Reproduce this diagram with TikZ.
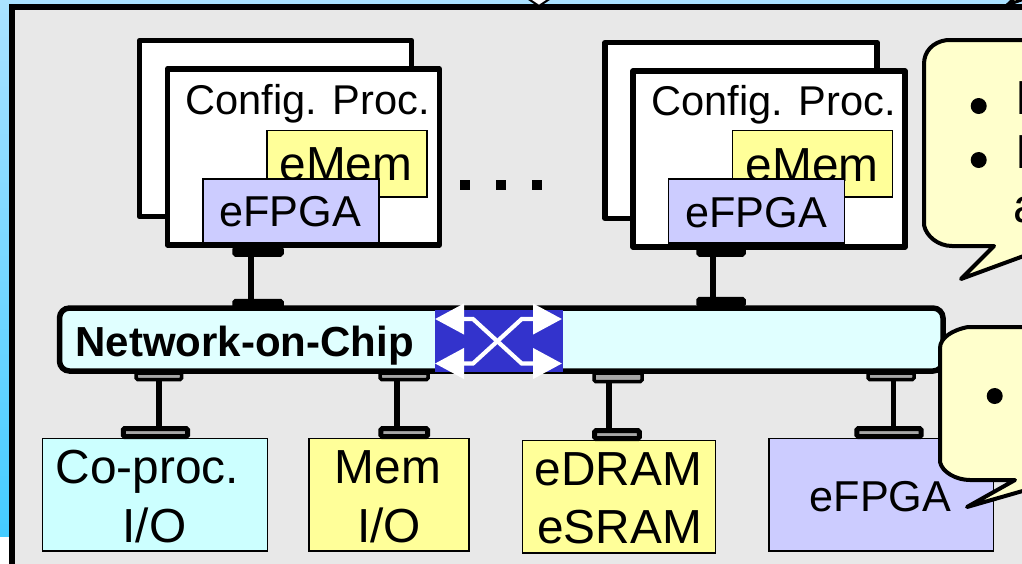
\documentclass[tikz,border=0pt]{standalone}
\usepackage{fontspec}
\setmainfont{Liberation Sans}
\usetikzlibrary{arrows.meta}
\definecolor{chipgray}{HTML}{E8E8E8}
\definecolor{skytop}{HTML}{AAE2FF}
\definecolor{skylow}{HTML}{44CCFF}
\definecolor{memyellow}{HTML}{FFFF99}
\definecolor{fpgablue}{HTML}{CCCCFF}
\definecolor{nocfill}{HTML}{E0FFFF}
\definecolor{iofill}{HTML}{CCFFFF}
\definecolor{switchblue}{HTML}{3333CC}
\definecolor{notefill}{HTML}{FFFFCC}

\begin{document}
\begin{tikzpicture}[x=1pt, y=-1pt,
      every node/.style = {outer sep=0pt, inner sep=0pt},
      chipframe/.style = {rectangle, draw, fill=chipgray, line width=5.8pt},
      procbox/.style = {rectangle, draw, fill=white, line width=5.5pt,
        line join=round, minimum width=272pt, minimum height=176pt},
      thinbox/.style = {rectangle, draw, line width=1.5pt},
      nocbar/.style = {rectangle, rounded corners=10pt, draw, fill=nocfill,
        line width=5.5pt, minimum width=883.5pt, minimum height=63pt},
      blackpad/.style = {rectangle, rounded corners=1.5pt, draw, fill=black,
        line width=3.5pt, minimum height=7pt},
      graypad/.style = {rectangle, rounded corners=1.5pt, draw, fill=black!35},
      stem/.style = {line width=5.5pt},
      crossline/.style = {draw=white, line width=4.2pt,
        {Triangle[length=29pt,width=30pt]}-{Triangle[length=29pt,width=30pt]}},
      dotmark/.style = {rectangle, fill=black, minimum size=10pt},
      note/.style = {draw, fill=notefill, line width=4pt, line join=round},
      bulletmark/.style = {circle, fill=black, minimum size=16pt},
      textmid/.style = {anchor=base, font=\fontsize{41.6}{50}\selectfont},
      textfpga/.style = {anchor=base, font=\fontsize{43.2}{50}\selectfont},
      textbig/.style = {anchor=base, font=\fontsize{47.8}{56}\selectfont}]
    \clip (0,0) rectangle (1022,563);
    % slide behind the chip
    \fill[skytop] (0,0) rectangle (1022,5);
    \shade[top color=skytop, bottom color=skylow] (0,0) rectangle (12,536);
    \node[chipframe, minimum width=1028.3pt, minimum height=593.3pt] (chip) at (525.85,303.35) {};
    \draw[line width=2pt, fill=white] (524,-4) -- (539,6) -- (554,-4) -- cycle;
    \draw[line width=3pt, fill=notefill] (1019,-6) -- (1007,5) -- (1030,-3);

    % the two processors
    \foreach \i/\dx/\dy/\tx/\ty/\mx/\my/\fx/\fy in {a/0/0/307.5/114.3/346/180/290/226.7,
        b/465.7/2/773.7/115/812/181/756.3/227.7} {
      \node[procbox] (back\i) at (275.4+\dx,128.5+\dy) {};
      \node[procbox] (proc\i) at (303.3+\dx,156.9+\dy) {};
      \node[textmid] (cfg\i) at (\tx,\ty) {Config. Proc.};
      \node[thinbox, fill=memyellow, minimum width=160pt, minimum height=66.7pt]
        (mem\i) at (347+\dx,163.7) {};
      \node[textbig] (memtxt\i) at (\mx,\my) {eMem};
      \node[thinbox, fill=fpgablue, minimum width=176pt, minimum height=64pt]
        (fpga\i) at (291+\dx,211) {};
      \node[textfpga] (fpgatxt\i) at (\fx,\fy) {eFPGA};
    }
    \foreach \i/\cx in {1/465,2/501,3/537}
      \node[dotmark] (dot\i) at (\cx,185) {};

    % bottom row
    \node[thinbox, fill=iofill, minimum width=225pt, minimum height=112.5pt] (coproc) at (155.2,494.7) {};
    \node[textbig] (coproctxt) at (147.5,483) {Co-proc.};
    \node[textbig] (coprociotxt) at (154.5,542) {I/O};
    \node[thinbox, fill=memyellow, minimum width=160pt, minimum height=112.5pt] (memio) at (389.2,494.7) {};
    \node[textbig] (memtxt) at (388,483) {Mem};
    \node[textbig] (memiotxt) at (389,542) {I/O};
    \node[thinbox, fill=memyellow, minimum width=193pt, minimum height=112.5pt] (dram) at (619.2,496.7) {};
    \node[textbig] (dramtxt) at (618.5,485) {eDRAM};
    \node[textbig] (sramtxt) at (619.5,543.7) {eSRAM};
    \node[thinbox, fill=fpgablue, minimum width=224.5pt, minimum height=112.5pt] (fpgac) at (881,494.7) {};
    \node[textfpga] (fpgactxt) at (880.5,511.7) {eFPGA};

    % network bar with its switch
    \node[nocbar] (noc) at (501.25,339.5) {};
    \node[anchor=base, font=\fontsize{42}{50}\selectfont\bfseries] (noctxt) at (244.7,356) {Network-on-Chip};
    \node[rectangle, fill=switchblue, minimum width=127.7pt, minimum height=61.7pt] (switch) at (498.85,340.85) {};
    \coordinate (swnw) at (435,319);
    \coordinate (swsw) at (435,363.5);
    \coordinate (swne) at (562,319);
    \coordinate (swse) at (562,363.5);
    \draw[crossline] (swnw) -- ++(38,0) -- ++(48.7,44.5) -- (swse);
    \draw[crossline] (swsw) -- ++(38,0) -- ++(48.7,-44.5) -- (swne);

    % pads and stems
    \foreach \n/\cx/\cy/\w in {topa/258/251.5/48, nocta/258/304/48, topb/721/251.5/46, noctb/721/302/46}
      \node[blackpad, minimum width=\w pt] (\n) at (\cx,\cy) {};
    \foreach \n/\cx/\cy/\w/\h/\lw in {nla/158.8/376.25/45.5/6.5/3.5, pla/155.4/432.5/64.3/8/5,
        nlb/404.2/376.25/48/6.5/3.5, plb/404.2/432.5/46.7/8/5,
        nlc/618/377.25/48/8.5/3.5, plc/617/434.5/44.7/8/5,
        nld/891/376.25/46/6.5/3.5, pld/889/432.5/64.4/8/5}
      \node[graypad, line width=\lw pt, minimum width=\w pt, minimum height=\h pt] (\n) at (\cx,\cy) {};
    \foreach \a/\b/\s in {topa/nocta/-7, topb/noctb/-8, nla/pla/0, nlb/plb/-7.2, nlc/plc/-9, nld/pld/2.3}
      \draw[stem] ([xshift=\s pt]\a.south) -- ([xshift=\s pt]\a.south |- \b.north);

    % speech bubbles, cut off by the edge
    \draw[note] (1040,40) -- (947,40) .. controls (932,42) and (924,52) .. (924,64)
      -- (924,225) .. controls (926,236) and (938,246) .. (952,246)
      -- (994,246) -- (961,279) -- (1040,250);
    \node[bulletmark] (bulla) at (978.7,106) {};
    \node[bulletmark] (bullb) at (978.7,160) {};
    \node[textbig] (linea) at (1022,114) {I};
    \node[textbig] (lineb) at (1022,168) {I};
    \node[textbig] (linec) at (1027,222) {a};
    \draw[note] (1040,327) -- (968,327) .. controls (952,330) and (940,338) .. (940,348)
      -- (940,462) .. controls (942,472) and (956,480) .. (970,480)
      -- (1015,480) -- (967,507) -- (1040,486);
    \node[bulletmark] (bullc) at (994.7,396) {};
  \end{tikzpicture}
\end{document}
